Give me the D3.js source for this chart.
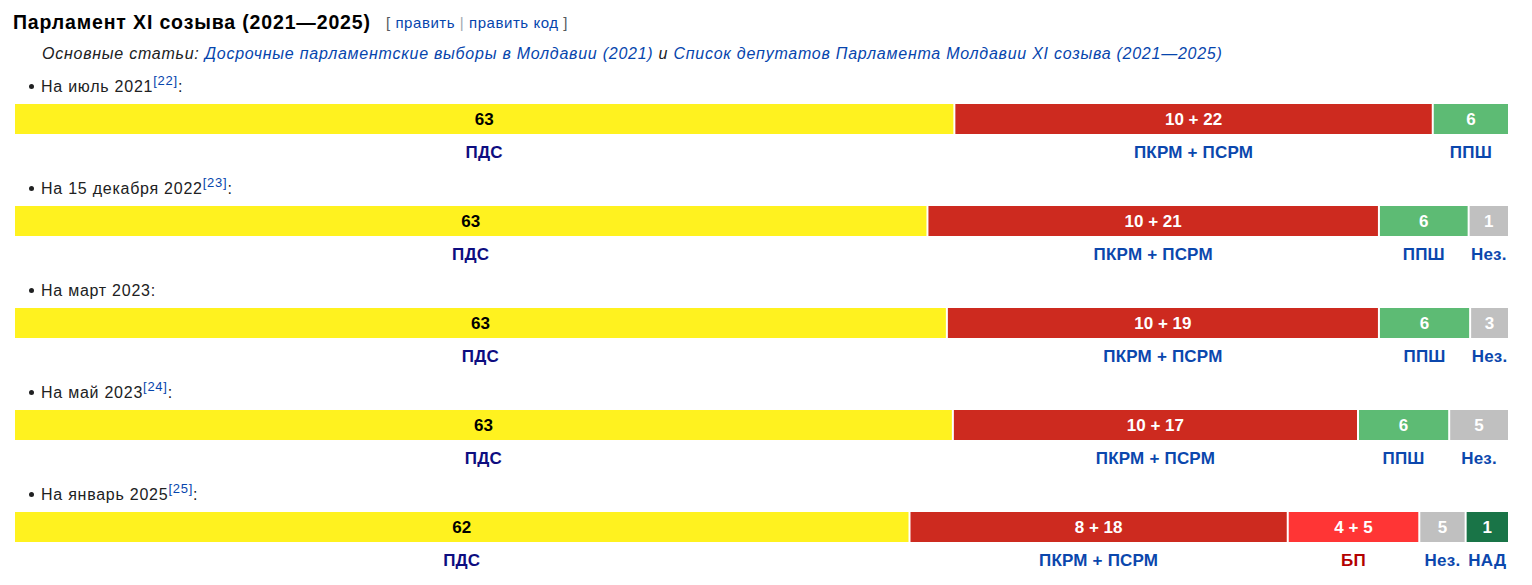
<!DOCTYPE html>
<html lang="ru">
<head>
  <meta charset="UTF-8">
  <title>Парламент XI созыва (2021—2025)</title>
  <script src="https://d3js.org/d3.v7.min.js"></script>
  <style>
    body {
      margin: 0;
      background: #fff;
      font-family: "Liberation Sans", Arial, sans-serif;
    }
  </style>
</head>
<body>
  <svg width="1532" height="585"></svg>
  <script>
    // Rows: one per date
    const periods = ["На июль 2021", "На 15 декабря 2022", "На март 2023", "На май 2023", "На январь 2025"];
    const refs = ["[22]", "[23]", "", "[24]", "[25]"];

    // Party of each cell, seat counts shown in the cell, and the width share (%) of each cell
    const parties = [
      ["ПДС", "ПКРМ + ПСРМ", "ППШ"],
      ["ПДС", "ПКРМ + ПСРМ", "ППШ", "Нез."],
      ["ПДС", "ПКРМ + ПСРМ", "ППШ", "Нез."],
      ["ПДС", "ПКРМ + ПСРМ", "ППШ", "Нез."],
      ["ПДС", "ПКРМ + ПСРМ", "БП", "Нез.", "НАД"]
    ];
    const seats = [
      ["63", "10 + 22", "6"],
      ["63", "10 + 21", "6", "1"],
      ["63", "10 + 19", "6", "3"],
      ["63", "10 + 17", "6", "5"],
      ["62", "8 + 18", "4 + 5", "5", "1"]
    ];
    const shares = [
      [62.9, 32.0, 5.1],
      [61.1, 30.2, 6.0, 2.7],
      [62.4, 28.9, 6.1, 2.6],
      [62.8, 27.1, 6.1, 4.0],
      [59.9, 25.3, 8.8, 3.1, 2.9]
    ];

    const partyKeys = ["ПДС", "ПКРМ + ПСРМ", "ППШ", "Нез.", "БП", "НАД"];
    const fill = d3.scaleOrdinal().domain(partyKeys)
      .range(["#fff21f", "#cd2a1f", "#5dbb74", "#c0c0c0", "#ff3535", "#197447"]);
    const ink = d3.scaleOrdinal().domain(partyKeys)
      .range(["#000000", "#ffffff", "#ffffff", "#ffffff", "#ffffff", "#ffffff"]);
    const labelInk = d3.scaleOrdinal().domain(partyKeys)
      .range(["#0d0d80", "#0b47ad", "#0b47ad", "#0b47ad", "#b30000", "#0b47ad"]);

    const svg = d3.select("svg");
    const link = "#0645ad";
    const text = "#202122";

    // Heading with edit links
    svg.append("text")
       .attr("x", 13).attr("y", 29)
       .style("font-size", "19.5px").style("font-weight", "bold")
       .style("letter-spacing", "0.85px")
       .attr("fill", "#000")
       .text("Парламент XI созыва (2021—2025)");

    const edit = svg.append("text")
       .attr("x", 386).attr("y", 27.5)
       .style("font-size", "15px").style("letter-spacing", "0.55px");
    edit.append("tspan").attr("fill", "#54595d").text("[ ");
    edit.append("tspan").attr("fill", link).text("править");
    edit.append("tspan").attr("fill", "#a2a9b1").text(" | ");
    edit.append("tspan").attr("fill", link).text("править код");
    edit.append("tspan").attr("fill", "#54595d").text(" ]");

    // Hatnote
    const hat = svg.append("text")
       .attr("x", 42).attr("y", 59)
       .style("font-size", "16px").style("font-style", "italic")
       .style("letter-spacing", "0.75px");
    hat.append("tspan").attr("fill", text).text("Основные статьи: ");
    hat.append("tspan").attr("fill", link).text("Досрочные парламентские выборы в Молдавии (2021)");
    hat.append("tspan").attr("fill", text).text(" и ");
    hat.append("tspan").attr("fill", link).text("Список депутатов Парламента Молдавии XI созыва (2021—2025)");

    const rowY = d3.scaleLinear().domain([0, 1]).range([104, 206]);

    periods.forEach((p, i) => {
      const y0 = rowY(i);

      // bullet line
      svg.append("circle")
         .attr("cx", 31.5).attr("cy", y0 - 17.5).attr("r", 2.5)
         .attr("fill", text);
      const t = svg.append("text")
         .attr("x", 41).attr("y", y0 - 12.3)
         .style("font-size", "16px").style("letter-spacing", "0.75px")
         .attr("fill", text);
      t.append("tspan").text(p);
      if (refs[i]) {
        t.append("tspan").attr("dy", -7).style("font-size", "13px").attr("fill", link).text(refs[i]);
        t.append("tspan").attr("dy", 7).text(":");
      } else {
        t.append("tspan").text(":");
      }

      // the bar
      const x = d3.scaleLinear().domain([0, d3.sum(shares[i])]).range([15, 1510]);
      const cells = shares[i].map((s, j) => {
        const start = d3.sum(shares[i].slice(0, j));
        return { party: parties[i][j], seats: seats[i][j], x0: x(start), x1: x(start + s) - 2 };
      });

      const g = svg.append("g");
      g.selectAll("rect")
       .data(cells)
       .enter()
       .append("rect")
       .attr("x", d => d.x0)
       .attr("y", y0)
       .attr("width", d => d.x1 - d.x0)
       .attr("height", 30)
       .attr("fill", d => fill(d.party));

      g.selectAll("text.seat")
       .data(cells)
       .enter()
       .append("text")
       .attr("class", "seat")
       .attr("x", d => (d.x0 + d.x1) / 2)
       .attr("y", y0 + 21)
       .attr("text-anchor", "middle")
       .style("font-size", "17px").style("font-weight", "bold")
       .attr("fill", d => ink(d.party))
       .text(d => d.seats);

      g.selectAll("text.party")
       .data(cells)
       .enter()
       .append("text")
       .attr("class", "party")
       .attr("x", d => (d.x0 + d.x1) / 2)
       .attr("y", y0 + 53.5)
       .attr("text-anchor", "middle")
       .style("font-size", "17px").style("font-weight", "bold")
       .style("letter-spacing", "0.2px")
       .attr("fill", d => labelInk(d.party))
       .text(d => d.party);
    });
  </script>
</body>
</html>
